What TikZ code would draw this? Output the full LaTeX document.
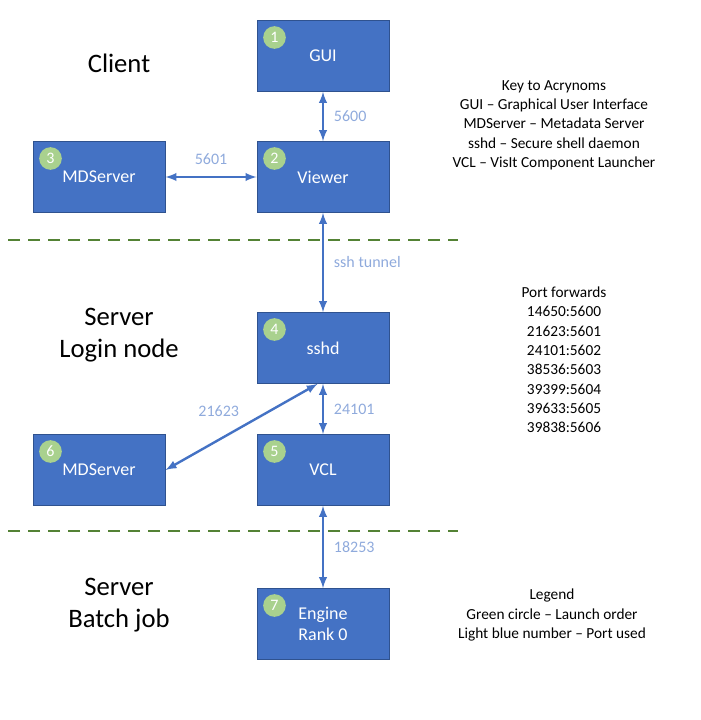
\documentclass[tikz,border=0pt]{standalone}
\usepackage{fontspec}
\setmainfont{Carlito}
\usetikzlibrary{positioning}
\definecolor{boxblue}{HTML}{4472C4}
\definecolor{boxedge}{HTML}{2F528F}
\definecolor{portblue}{HTML}{8FAADC}
\definecolor{ordergreen}{HTML}{A9D18E}
\definecolor{sepgreen}{HTML}{548235}
\tikzset{
  comp/.style={draw=boxedge, fill=boxblue, minimum width=99pt, minimum height=53pt,
    text=white, font=\fontsize{13.5}{16}\selectfont, inner sep=0pt, align=center, line width=0.75pt},
  order/.style={circle, fill=ordergreen, text=white, minimum size=17pt, inner sep=0pt,
    font=\fontsize{12}{14}\selectfont},
  link/.style={<->, >=latex, draw=boxblue, line width=1.8pt},
  port/.style={text=portblue, font=\fontsize{12}{14}\selectfont},
  title/.style={font=\fontsize{20}{24}\selectfont, align=center},
  note/.style={font=\fontsize{11.5}{14.5}\selectfont, align=center},
  sep/.style={draw=sepgreen, dashed, dash pattern=on 9pt off 6pt, line width=1.8pt}
}
\begin{document}
\begin{tikzpicture}[x=0.75pt,y=-0.75pt]
  \useasboundingbox (0,0) rectangle (700,720);
  % components
  \node[comp] (gui) at (323,56) {GUI};
  \node[comp] (viewer) at (323,177) {Viewer};
  \node[comp] (mds1) at (99,177) {MDServer};
  \node[comp] (sshd) at (323,348) {sshd};
  \node[comp] (mds2) at (99,470) {MDServer};
  \node[comp] (vcl) at (323,470) {VCL};
  \node[comp] (engine) at (323,624) {Engine\\Rank 0};
  % launch order
  \foreach \n/\b in {1/gui,2/viewer,3/mds1,4/sshd,5/vcl,6/mds2,7/engine}
    \node[order] at ([xshift=13.5pt,yshift=-13pt]\b.north west) {\n};
  % connections
  \draw[link] (gui) -- (viewer) node[port, pos=0.5, right=4pt] {5600};
  \draw[link] (mds1) -- (viewer) node[port, pos=0.5, above=5pt] {5601};
  \draw[link] (viewer) -- (sshd) node[port, pos=0.5, right=4pt] {ssh tunnel};
  \draw[link] (sshd) -- (vcl) node[port, pos=0.5, right=4pt] {24101};
  \coordinate (tap) at ([xshift=-4pt]sshd.south);
  \draw[link] (tap) -- (mds2.east) node[port, pos=0.48, above left=2pt and 0pt] {21623};
  \draw[link] (vcl) -- (engine) node[port, pos=0.5, right=4pt] {18253};
  % separators
  \coordinate (s1a) at (8,240); \coordinate (s1b) at (458,240);
  \coordinate (s2a) at (8,531); \coordinate (s2b) at (458,531);
  \draw[sep] (s1a) -- (s1b);
  \draw[sep] (s2a) -- (s2b);
  % titles
  \node[title] (client) at (119,63) {Client};
  \node[title] (login) at (119,335) {Server\\Login node};
  \node[title] (batch) at (119,605) {Server\\Batch job};
  % notes
  \node[note] (key) at (554,125) {Key to Acrynoms\\GUI -- Graphical User Interface\\MDServer -- Metadata Server\\sshd -- Secure shell daemon\\VCL -- VisIt Component Launcher};
  \node[note] (fwd) at (564,360) {Port forwards\\14650:5600\\21623:5601\\24101:5602\\38536:5603\\39399:5604\\39633:5605\\39838:5606};
  \node[note] (legend) at (552,615) {Legend\\Green circle -- Launch order\\Light blue number -- Port used};
\end{tikzpicture}
\end{document}
